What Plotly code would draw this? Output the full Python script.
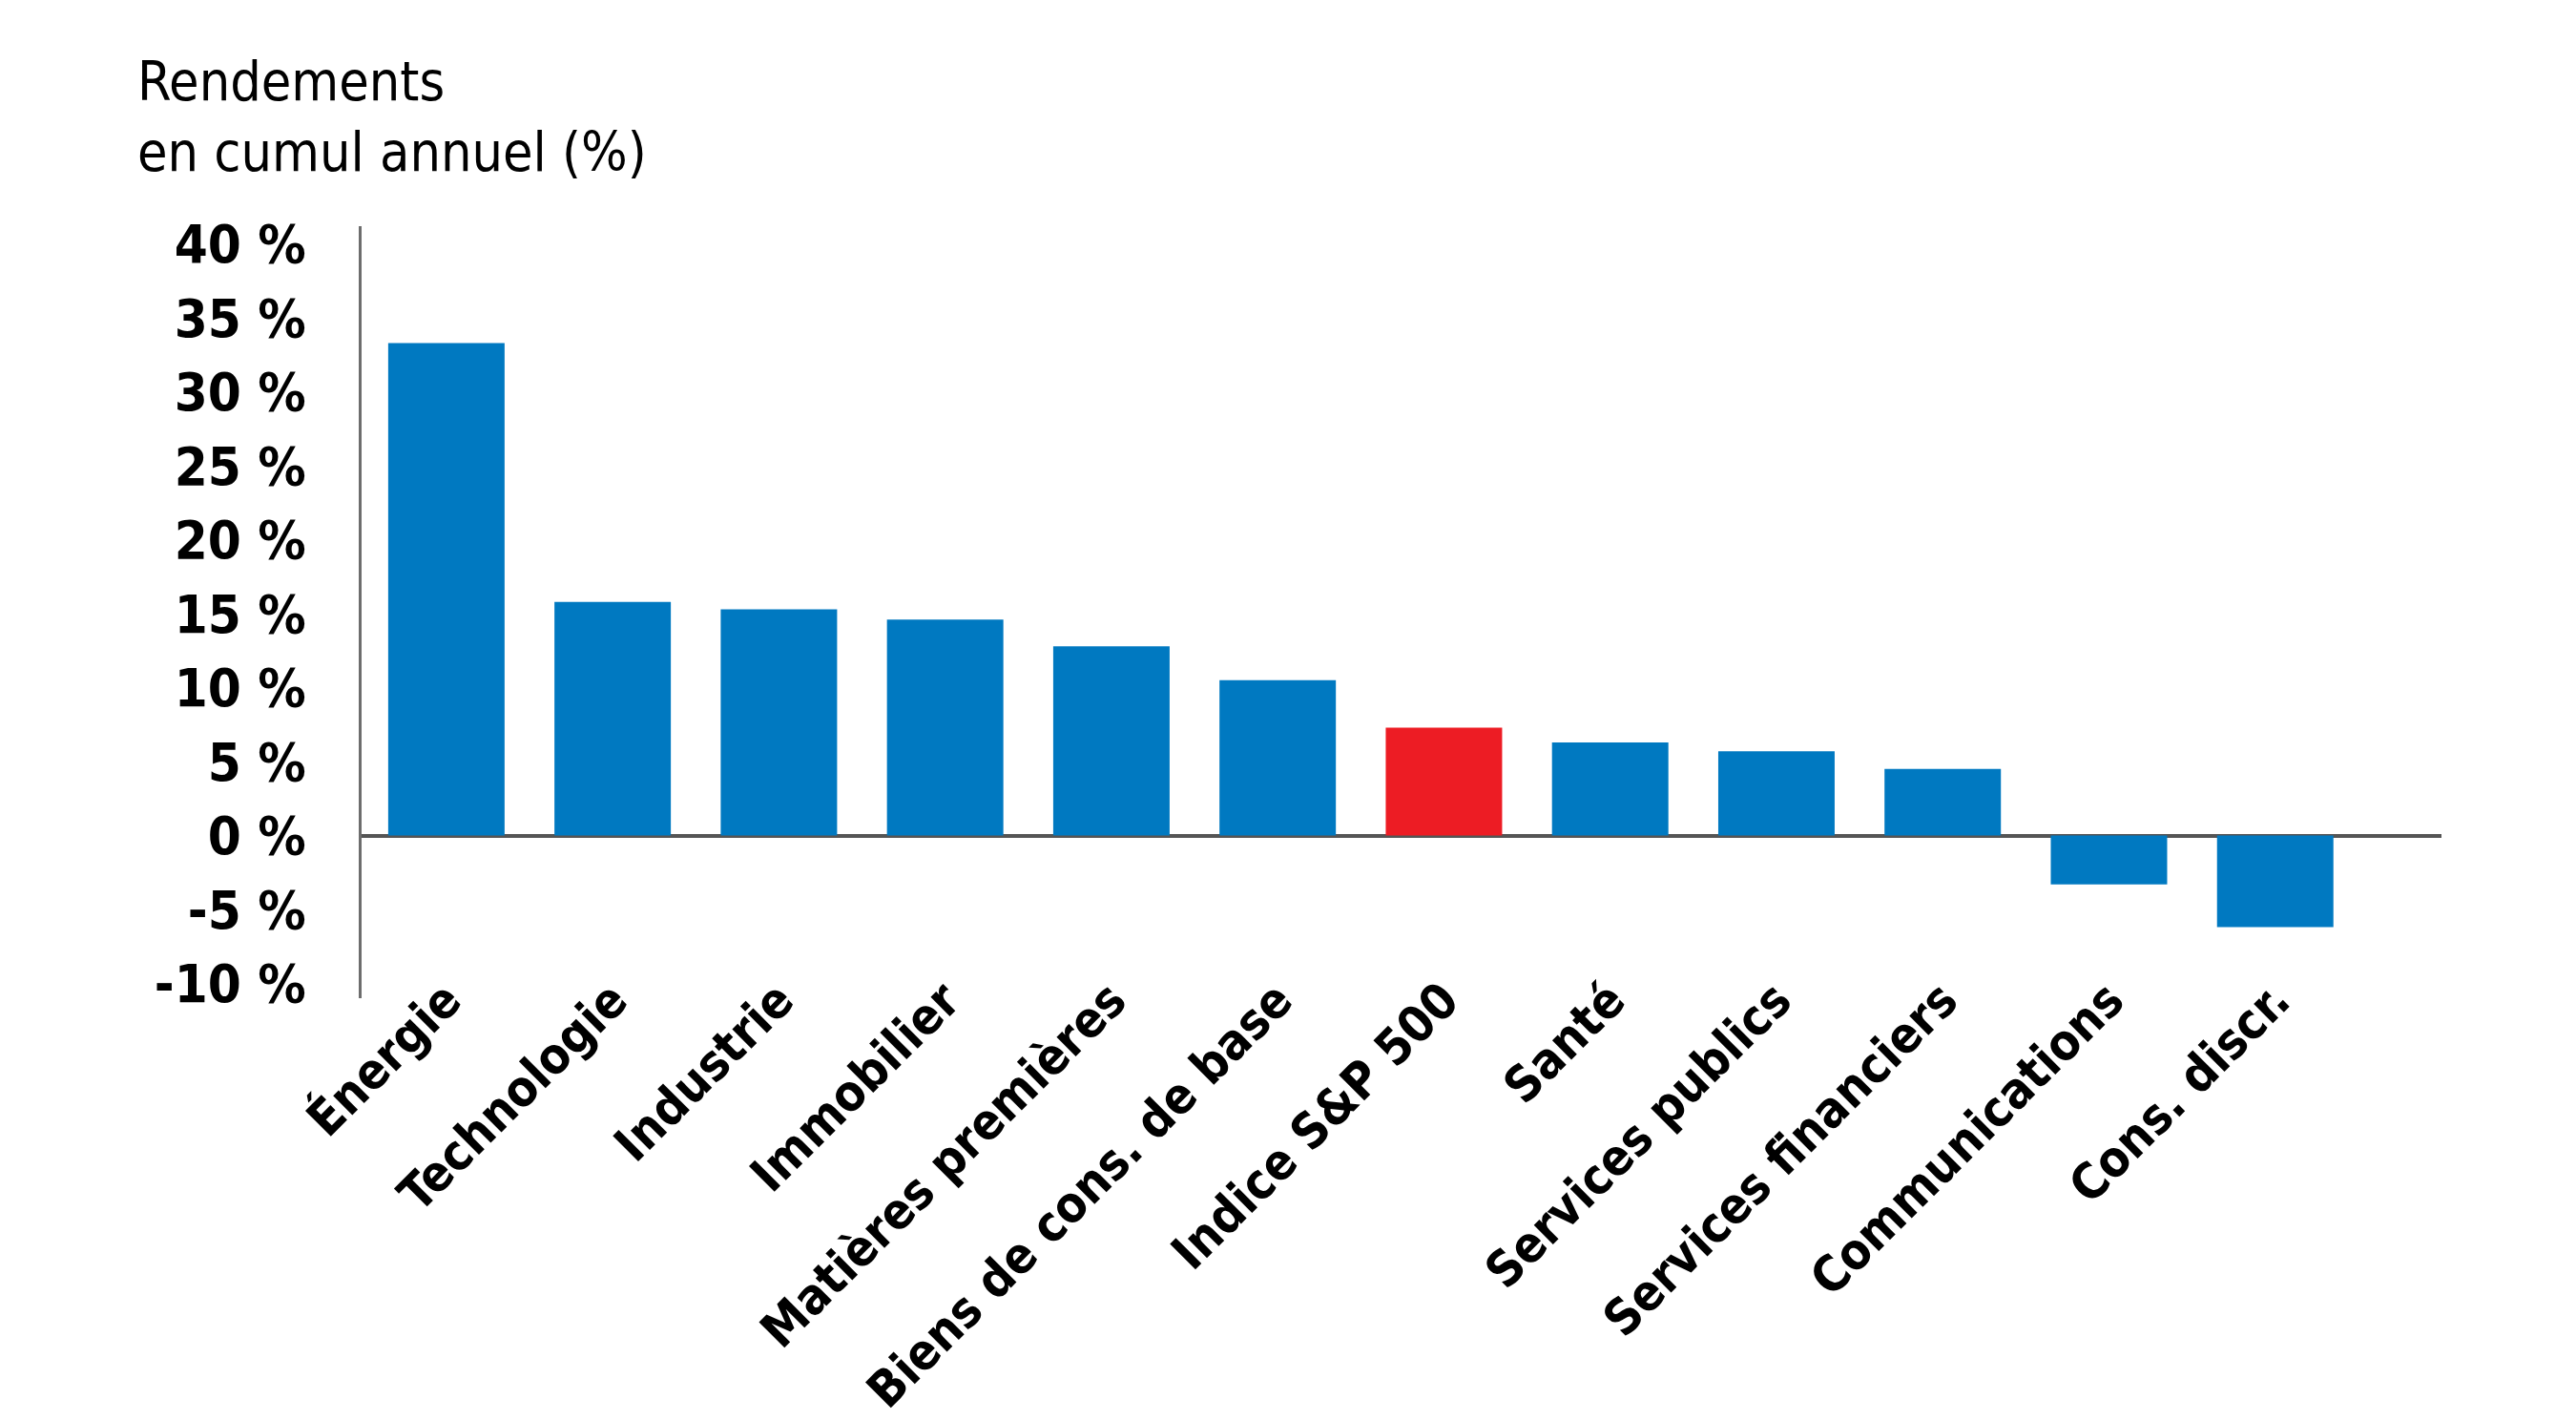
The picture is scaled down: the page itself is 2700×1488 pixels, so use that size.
import plotly.graph_objects as go

secteurs = ["Énergie", "Technologie", "Industrie", "Immobilier", "Matières premières",
            "Biens de cons. de base", "Indice S&P 500", "Santé", "Services publics",
            "Services financiers", "Communications", "Cons. discr."]
rendements = [33.3, 15.8, 15.3, 14.6, 12.8, 10.5, 7.3, 6.3, 5.7, 4.5, -3.3, -6.2]

tick_vals = [-10, -5, 0, 5, 10, 15, 20, 25, 30, 35, 40]
tick_text = ["-10 %", "-5 %", "0 %", "5 %", "10 %", "15 %", "20 %", "25 %", "30 %", "35 %", "40 %"]

BLEU = "#0079c1"
ROUGE = "#ed1c24"
couleurs = [ROUGE if s == "Indice S&P 500" else BLEU for s in secteurs]

police = "Liberation Sans Narrow, DejaVu Sans Condensed, Roboto, sans-serif"

fig = go.Figure(go.Bar(x=secteurs, y=rendements, marker_color=couleurs,
                       marker_line_width=0))

fig.update_layout(
    width=2700, height=1488,
    margin=dict(l=371, r=149, t=229, b=450),
    plot_bgcolor="white", paper_bgcolor="white",
    bargap=0.3,
    showlegend=False,
    font=dict(family=police, color="black"),
)

# titre de l'axe, en haut a gauche
fig.add_annotation(text="Rendements<br>en cumul annuel (%)",
                   xref="paper", x=(134 - 371) / 2179, xanchor="left",
                   yref="paper", y=1 + (229 - 42) / 809, yanchor="top",
                   align="left", showarrow=False,
                   font=dict(family=police, size=57, color="black"))

fig.update_xaxes(range=[-0.51, 12.0], tickangle=-45, showline=False,
                 showgrid=False, ticks="", automargin=False,
                 ticklabelstandoff=-40,
                 tickfont=dict(family=police, size=52, color="black", weight="bold"))
fig.update_yaxes(range=[-11, 41.2], tickvals=tick_vals, ticktext=tick_text,
                 showgrid=False, showline=True, linecolor="#6d6d6d", linewidth=3,
                 zeroline=True, zerolinecolor="#555555", zerolinewidth=4,
                 ticks="", ticklabelstandoff=44, automargin=False,
                 tickfont=dict(family=police, size=56, color="black", weight="bold"))

fig.write_html("out.html")
